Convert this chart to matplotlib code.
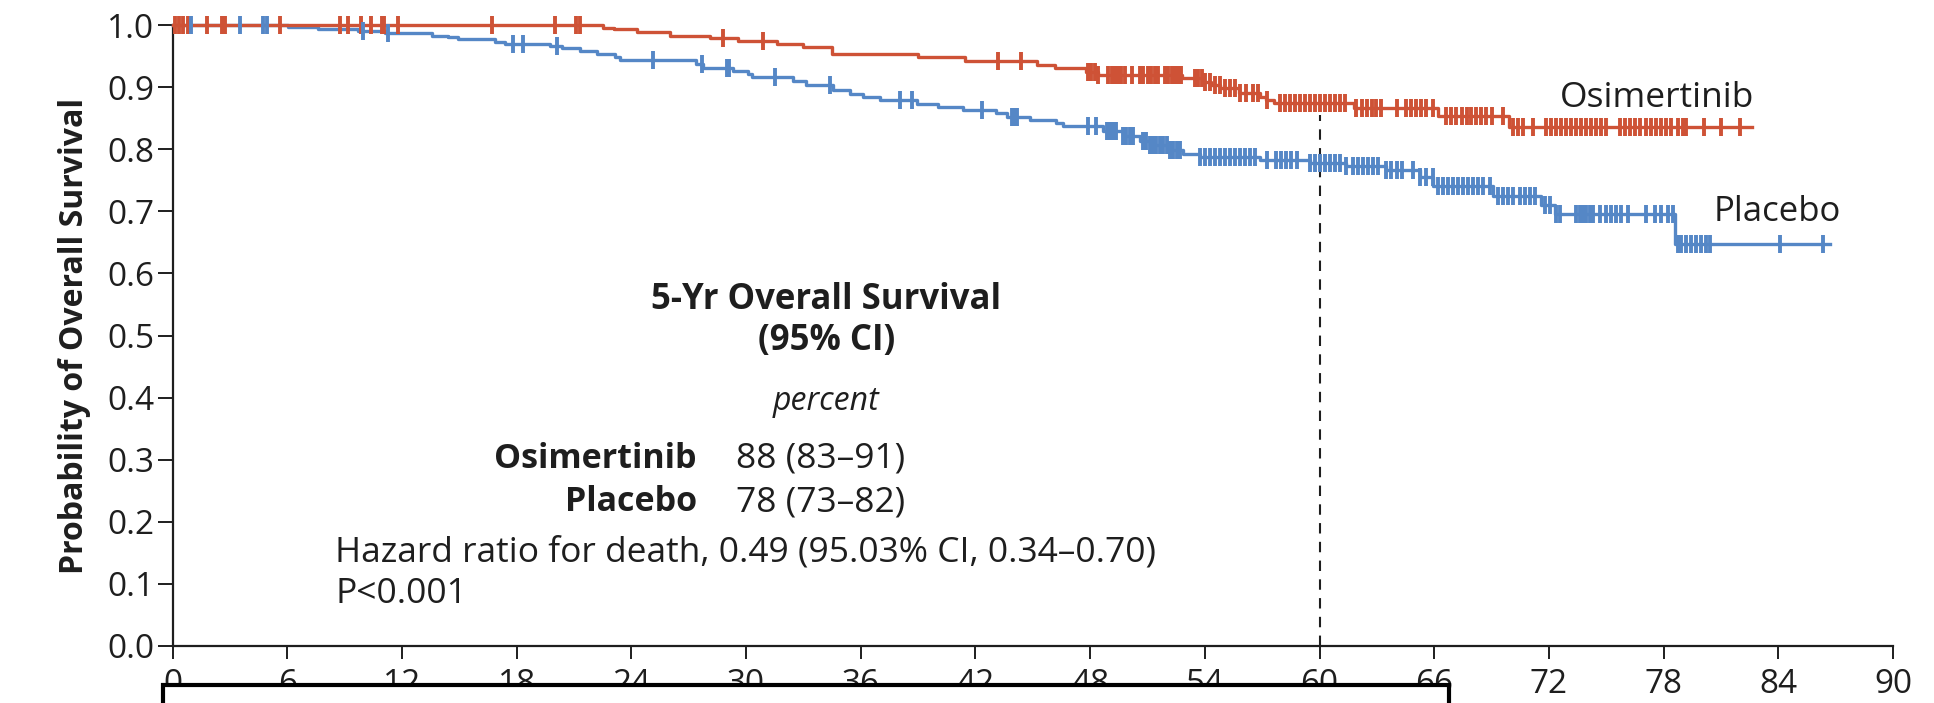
import numpy as np
import matplotlib
matplotlib.use("Agg")
import matplotlib.pyplot as plt
from matplotlib.patches import Rectangle

plt.rcParams['font.family'] = ['Open Sans', 'DejaVu Sans']

# ---------------- data ----------------
osi_time = [0, 22.5, 23.1, 24.3, 26.0, 28.1, 29.6, 31.6, 33.0, 34.5, 39.0, 41.45, 45.2,
            46.15, 47.8, 48.4, 52.8, 53.9, 54.3, 54.8, 55.8, 56.9, 57.2, 57.6, 61.8, 66.2, 69.9]
osi_surv = [1.0, 0.996, 0.993, 0.988, 0.982, 0.979, 0.974, 0.969, 0.964, 0.954, 0.9485, 0.942,
            0.935, 0.930, 0.925, 0.919, 0.914, 0.908, 0.903, 0.898, 0.891, 0.884, 0.879, 0.875,
            0.866, 0.853, 0.835]
osi_end = 82.6
osi_censor = [0.13, 0.34, 0.57, 0.79, 1.79, 2.61, 2.75, 5.62, 8.76, 9.20, 9.86, 10.38, 10.94,
              11.08, 11.81, 16.69, 20.0, 21.1, 21.31, 28.78, 30.9, 43.19, 44.36, 47.9, 48.07,
              48.25, 48.42, 48.95, 49.12, 49.3, 49.47, 49.64, 49.82, 50.17, 50.6, 50.78, 51.04,
              51.21, 51.39, 51.56, 51.91, 52.08, 52.26, 52.43, 52.61, 52.78, 53.48, 53.65, 53.83,
              54.0, 54.26, 54.52, 54.79, 55.05, 55.31, 55.57, 55.83, 56.18, 56.53, 56.79, 57.23,
              57.92, 58.19, 58.45, 58.71, 58.97, 59.23, 59.49, 59.75, 60.02, 60.28, 60.54, 60.8,
              61.06, 61.32, 61.93, 62.2, 62.46, 62.72, 62.98, 63.24, 64.03, 64.55, 64.81, 65.07,
              65.33, 65.59, 65.94, 66.64, 66.9, 67.16, 67.43, 67.69, 67.95, 68.21, 68.47, 68.73,
              69.0, 69.6, 70.13, 70.39, 70.65, 71.17, 71.87, 72.13, 72.39, 72.65, 72.91, 73.18,
              73.44, 73.7, 73.96, 74.22, 74.48, 74.75, 75.01, 75.7, 75.97, 76.23, 76.49, 76.75,
              77.1, 77.36, 77.62, 77.88, 78.14, 78.41, 78.75, 79.02, 79.19, 80.1, 81.0, 82.0]

pla_time = [0, 6.06, 7.63, 9.72, 11.11, 13.55, 14.43, 14.95, 16.87, 17.39, 19.74, 20.35, 21.31,
            22.18, 23.14, 23.4, 27.41, 27.76, 29.33, 30.1, 30.3, 32.47, 33.16, 34.56, 35.43,
            36.12, 37.0, 38.92, 40.05, 41.36, 43.1, 43.63, 44.85, 46.2, 46.6, 48.68, 49.73, 50.6,
            51.12, 52.17, 52.87, 53.74, 56.88, 59.49, 61.41, 63.5, 65.25, 65.95, 69.08, 71.6,
            72.3, 78.58]
pla_surv = [1.0, 0.997, 0.994, 0.990, 0.987, 0.983, 0.980, 0.977, 0.973, 0.970, 0.967, 0.963,
            0.958, 0.953, 0.948, 0.943, 0.937, 0.931, 0.926, 0.921, 0.916, 0.910, 0.904, 0.896,
            0.889, 0.884, 0.879, 0.873, 0.868, 0.863, 0.858, 0.852, 0.847, 0.842, 0.838, 0.830,
            0.822, 0.814, 0.806, 0.799, 0.793, 0.787, 0.782, 0.778, 0.773, 0.767, 0.756, 0.740,
            0.724, 0.710, 0.696, 0.648]
pla_end = 86.7
pla_censor = [0.97, 3.53, 4.75, 4.92, 9.98, 11.25, 17.83, 18.35, 20.09, 25.15, 27.68, 29.0, 29.1,
              31.51, 34.38, 38.05, 38.66, 42.32, 43.89, 44.0, 44.15, 47.9, 48.33, 48.86, 49.03,
              49.2, 49.38, 49.73, 49.9, 50.08, 50.25, 50.78, 50.95, 51.12, 51.3, 51.47, 51.65,
              51.82, 52.0, 52.17, 52.34, 52.52, 52.69, 53.74, 54.0, 54.26, 54.52, 54.79, 55.05,
              55.31, 55.57, 55.83, 56.09, 56.35, 56.62, 57.23, 57.75, 58.01, 58.27, 58.53, 58.8,
              59.49, 59.75, 60.02, 60.28, 60.54, 60.8, 61.06, 61.41, 61.76, 62.02, 62.28, 62.54,
              62.81, 63.07, 63.5, 63.76, 64.03, 64.29, 64.9, 65.25, 65.59, 65.94, 66.21, 66.47,
              66.73, 66.99, 67.25, 67.51, 67.77, 68.04, 68.3, 68.56, 68.91, 69.34, 69.6, 69.87,
              70.13, 70.48, 70.74, 71.0, 71.26, 71.78, 72.04, 72.39, 72.57, 73.44, 73.61, 73.79,
              73.96, 74.14, 74.31, 74.66, 75.01, 75.27, 75.53, 75.79, 76.14, 77.1, 77.53, 77.88,
              78.23, 78.49, 78.75, 78.93, 79.19, 79.45, 79.71, 79.97, 80.24, 80.41, 84.07, 86.34]

x_ticks = list(range(0, 91, 6))
y_ticks = [0.0, 0.1, 0.2, 0.3, 0.4, 0.5, 0.6, 0.7, 0.8, 0.9, 1.0]
y_ticklabels = ["0.0", "0.1", "0.2", "0.3", "0.4", "0.5", "0.6", "0.7", "0.8", "0.9", "1.0"]
landmark_month = 60

RED = "#CE5236"
BLUE = "#5587C6"
INK = "#1e1e1e"

# ---------------- figure ----------------
fig = plt.figure(figsize=(19.34, 7.03), dpi=100)
ax = fig.add_axes([0.0892, 0.0811, 0.8896, 0.8833])
ax.set_xlim(0, 90)
ax.set_ylim(0, 1.0)

for side in ("top", "right"):
    ax.spines[side].set_visible(False)
for side in ("left", "bottom"):
    ax.spines[side].set_linewidth(1.6)
    ax.spines[side].set_color(INK)

ax.set_xticks(x_ticks)
ax.set_yticks(y_ticks)
ax.set_yticklabels(y_ticklabels)
ax.tick_params(axis="y", length=11, width=1.4, pad=2, labelsize=24, colors=INK)
ax.tick_params(axis="x", length=9.5, width=1.4, pad=6, labelsize=24, colors=INK)

ax.set_ylabel("Probability of Overall Survival", fontsize=23, fontweight="bold",
              color=INK, labelpad=12)

# landmark dashed line
ax.plot([landmark_month, landmark_month], [0, 0.855], ls=(0, (5, 4)), lw=1.5,
        color=INK, zorder=1)


def km_line(times, surv, end):
    t = np.r_[np.asarray(times, float), end]
    s = np.r_[np.asarray(surv, float), surv[-1]]
    return t, s


def at(times, surv, x):
    idx = np.searchsorted(np.asarray(times, float), np.asarray(x, float), side="right") - 1
    return np.asarray(surv, float)[idx]


t, s = km_line(pla_time, pla_surv, pla_end)
ax.step(t, s, where="post", color=BLUE, lw=2.4, zorder=3, clip_on=False)
t, s = km_line(osi_time, osi_surv, osi_end)
ax.step(t, s, where="post", color=RED, lw=2.4, zorder=4, clip_on=False)

ax.plot(osi_censor, at(osi_time, osi_surv, osi_censor), ls="none", marker="|",
        ms=13, mew=2.8, color=RED, zorder=5, clip_on=False)
ax.plot(pla_censor, at(pla_time, pla_surv, pla_censor), ls="none", marker="|",
        ms=13, mew=2.8, color=BLUE, zorder=6, clip_on=False)

# curve labels
ax.text(72.6, 0.868, "Osimertinib", fontsize=25.5, color=INK, ha="left", va="baseline")
ax.text(80.6, 0.684, "Placebo", fontsize=25, color=INK, ha="left", va="baseline")

# summary block
ax.text(34.2, 0.543, "5-Yr Overall Survival", fontsize=25, fontweight="bold",
        color=INK, ha="center", va="baseline")
ax.text(34.2, 0.477, "(95% CI)", fontsize=25, fontweight="bold",
        color=INK, ha="center", va="baseline")
ax.text(34.2, 0.380, "percent", fontsize=23, style="italic",
        color=INK, ha="center", va="baseline")
ax.text(27.43, 0.287, "Osimertinib", fontsize=24.5, fontweight="bold",
        color=INK, ha="right", va="baseline")
ax.text(29.47, 0.287, "88 (83\u201391)", fontsize=25.5, color=INK, ha="left", va="baseline")
ax.text(27.43, 0.217, "Placebo", fontsize=24.5, fontweight="bold",
        color=INK, ha="right", va="baseline")
ax.text(29.47, 0.217, "78 (73\u201382)", fontsize=25.5, color=INK, ha="left", va="baseline")
ax.text(8.52, 0.136, "Hazard ratio for death, 0.49 (95.03% CI, 0.34\u20130.70)",
        fontsize=25.5, color=INK, ha="left", va="baseline")
ax.text(8.52, 0.069, "P<0.001", fontsize=25.5, color=INK, ha="left", va="baseline")

# black-outlined white box overlapping the lower edge
fig.add_artist(Rectangle((0.0843, -0.2), 0.6649, 0.2263, transform=fig.transFigure,
                         facecolor="white", edgecolor="black", lw=3.0, zorder=10))

fig.savefig("out.png", dpi=100)
